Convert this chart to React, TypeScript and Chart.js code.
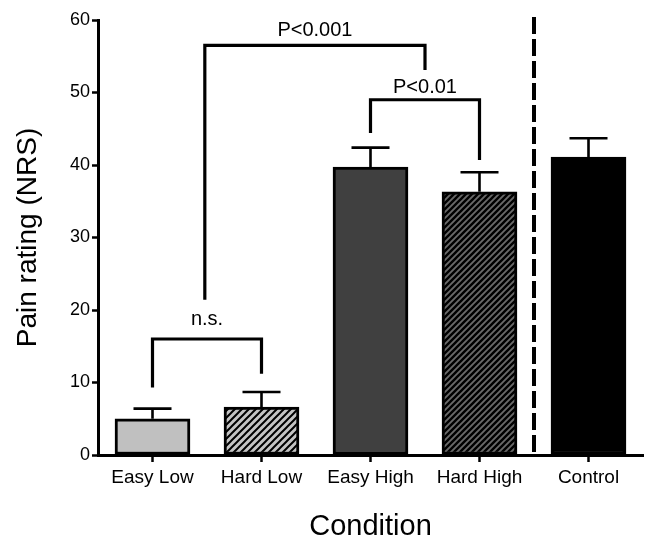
import React, { useEffect, useRef } from 'react';
import { Chart, registerables } from 'chart.js';

Chart.register(...registerables);

const categories = ['Easy Low', 'Hard Low', 'Easy High', 'Hard High', 'Control'];
const means = [5.0, 6.6, 39.7, 36.3, 41.1];
const errorTops = [6.4, 8.7, 42.4, 39.0, 43.7];
const yTicks = [0, 10, 20, 30, 40, 50, 60];

const bracketLabels = ['n.s.', 'P<0.001', 'P<0.01'];
const bracketStart = [0, 0.48, 2];
const bracketEnd = [1, 2.5, 3];
const bracketTop = [16.0, 56.5, 49.0];
const bracketLeftFoot = [9.3, 21.4, 44.4];
const bracketRightFoot = [11.2, 53.1, 40.7];
const bracketLabelY = [18.0, 57.8, 49.9];

const separatorPosition = [3.5];

const FONT = '"Liberation Sans", Arial, Helvetica, sans-serif';

function makeHatch(bg: string, fg: string, size: number, lw: number) {
  const c = document.createElement('canvas');
  c.width = size;
  c.height = size;
  const g = c.getContext('2d')!;
  g.fillStyle = bg;
  g.fillRect(0, 0, size, size);
  g.strokeStyle = fg;
  g.lineWidth = lw;
  g.beginPath();
  g.moveTo(0, size);
  g.lineTo(size, 0);
  g.moveTo(-size / 2, size / 2);
  g.lineTo(size / 2, -size / 2);
  g.moveTo(size / 2, size * 1.5);
  g.lineTo(size * 1.5, size / 2);
  g.stroke();
  return g.createPattern(c, 'repeat');
}

export default function App() {
  const ref = useRef<HTMLCanvasElement>(null);

  useEffect(() => {
    if (!ref.current) return;
    const hatchLight = makeHatch('#c4c4c4', '#000000', 7, 2.0);
    const hatchDark = makeHatch('#6a6a6a', '#000000', 6, 2.4);
    const fills = ['#c0c0c0', hatchLight, '#404040', hatchDark, '#000000'];

    const annotations = {
      id: 'annotations',
      afterDatasetsDraw(chart: any) {
        const { ctx, chartArea } = chart;
        const x = chart.scales.x;
        const y = chart.scales.y;
        ctx.save();
        // error bars
        ctx.strokeStyle = '#000';
        ctx.lineWidth = 2.6;
        ctx.lineCap = 'butt';
        for (let i = 0; i < means.length; i++) {
          const cx = x.getPixelForValue(i);
          const y0 = y.getPixelForValue(means[i]);
          const y1 = y.getPixelForValue(errorTops[i]);
          ctx.beginPath();
          ctx.moveTo(cx, y0);
          ctx.lineTo(cx, y1);
          ctx.moveTo(cx - 19, y1);
          ctx.lineTo(cx + 19, y1);
          ctx.stroke();
        }
        // brackets
        ctx.lineWidth = 3.2;
        ctx.lineJoin = 'miter';
        ctx.font = `20px ${FONT}`;
        ctx.fillStyle = '#000';
        ctx.textAlign = 'center';
        ctx.textBaseline = 'alphabetic';
        for (let i = 0; i < bracketLabels.length; i++) {
          const xl = x.getPixelForValue(bracketStart[i]);
          const xr = x.getPixelForValue(bracketEnd[i]);
          const yt = y.getPixelForValue(bracketTop[i]);
          ctx.beginPath();
          ctx.moveTo(xl, y.getPixelForValue(bracketLeftFoot[i]));
          ctx.lineTo(xl, yt);
          ctx.lineTo(xr, yt);
          ctx.lineTo(xr, y.getPixelForValue(bracketRightFoot[i]));
          ctx.stroke();
          ctx.fillText(bracketLabels[i], (xl + xr) / 2, y.getPixelForValue(bracketLabelY[i]));
        }
        // dashed separator
        ctx.lineWidth = 4;
        ctx.setLineDash([17, 5]);
        for (const p of separatorPosition) {
          const sx = x.getPixelForValue(p);
          ctx.beginPath();
          ctx.moveTo(sx, chartArea.top - 3);
          ctx.lineTo(sx, chartArea.bottom);
          ctx.stroke();
        }
        ctx.restore();
      },
    };

    const chart = new Chart(ref.current, {
      type: 'bar',
      data: {
        labels: categories,
        datasets: [
          {
            data: means,
            backgroundColor: fills as any,
            borderColor: '#000',
            borderWidth: 3,
            borderSkipped: false,
            barThickness: 75,
          },
        ],
      },
      options: {
        responsive: false,
        animation: false,
        events: [],
        layout: { padding: { top: 20, right: 4, left: 0, bottom: 0 } },
        plugins: {
          legend: { display: false },
          tooltip: { enabled: false },
        },
        scales: {
          x: {
            afterFit: (s: any) => {
              s.height = 86;
            },
            grid: {
              offset: false,
              drawOnChartArea: false,
              drawTicks: true,
              tickLength: 7,
              tickWidth: 2.5,
              tickColor: '#000',
            },
            border: { color: '#000', width: 3 },
            ticks: {
              color: '#000',
              padding: 4,
              font: { family: FONT, size: 19 },
            },
            title: {
              display: true,
              text: 'Condition',
              color: '#000',
              font: { family: FONT, size: 29, lineHeight: 1 },
              padding: { top: 0, bottom: 0 },
            },
          },
          y: {
            min: 0,
            max: 60,
            afterFit: (s: any) => {
              s.width = 98;
            },
            afterBuildTicks: (s: any) => {
              s.ticks = yTicks.map((v) => ({ value: v }));
            },
            grid: {
              drawOnChartArea: false,
              drawTicks: true,
              tickLength: 6,
              tickWidth: 2.5,
              tickColor: '#000',
            },
            border: { color: '#000', width: 3 },
            ticks: {
              color: '#000',
              padding: 2,
              font: { family: FONT, size: 18 },
            },
            title: {
              display: true,
              text: 'Pain rating (NRS)',
              color: '#000',
              font: { family: FONT, size: 28, lineHeight: 1.2 },
              padding: { top: 11, bottom: 0 },
            },
          },
        },
      },
      plugins: [annotations],
    });
    return () => chart.destroy();
  }, []);

  return (
    <div style={{ position: 'absolute', left: 0, top: 0, width: 647, height: 541, background: '#fff' }}>
      <canvas ref={ref} width={647} height={541} style={{ display: 'block' }} />
    </div>
  );
}
